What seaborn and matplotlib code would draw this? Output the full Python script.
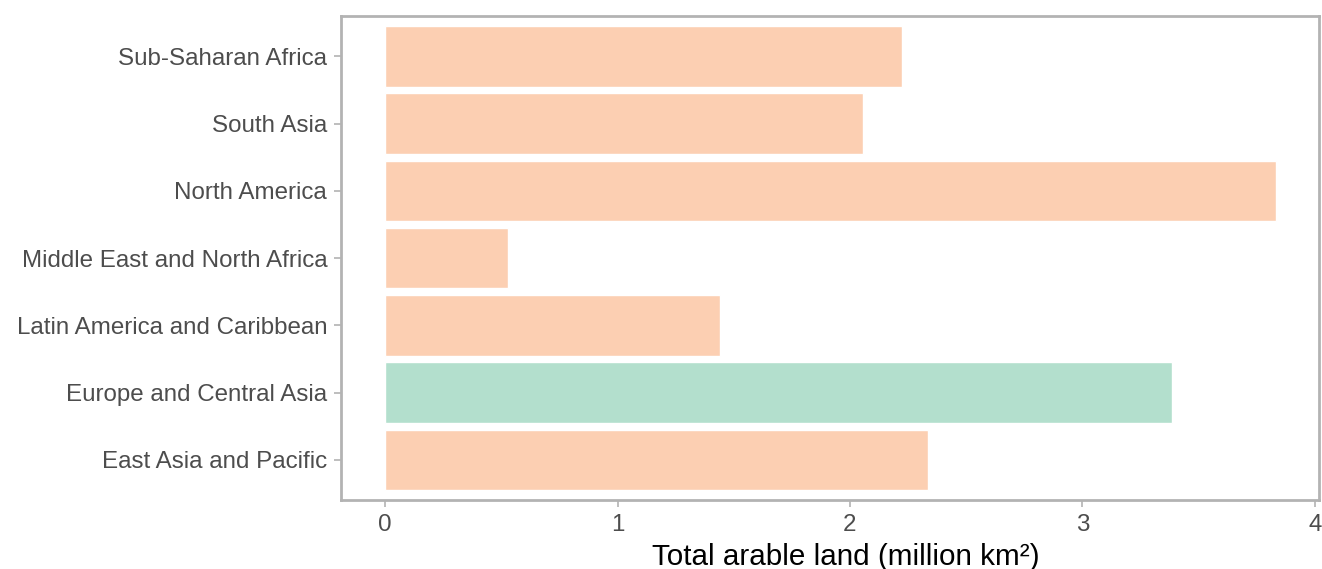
import numpy as np
import pandas as pd
import seaborn as sns
import matplotlib.pyplot as plt

# region names, top to bottom as drawn
regions = [
    "Sub-Saharan Africa",
    "South Asia",
    "North America",
    "Middle East and North Africa",
    "Latin America and Caribbean",
    "Europe and Central Asia",
    "East Asia and Pacific",
]
arable_land = [2.224, 2.056, 3.832, 0.529, 1.441, 3.385, 2.335]
highlight = "Europe and Central Asia"

df = pd.DataFrame({"region": regions, "land": arable_land})
df["group"] = ["hl" if r == highlight else "other" for r in df["region"]]

sns.set_style("white")
plt.rcParams["font.family"] = ["Liberation Sans", "DejaVu Sans"]

fig, ax = plt.subplots(figsize=(13.22, 5.69), dpi=100)
sns.barplot(
    data=df, y="region", x="land", hue="group",
    palette={"other": "#fccfb2", "hl": "#b3dfcd"},
    order=regions, dodge=False, width=0.9, legend=False, ax=ax,
    saturation=1,
)

ax.set_xlim(-0.19, 4.02)
ax.set_ylim(6.6, -0.6)
ax.set_xticks([0, 1, 2, 3, 4])
ax.set_ylabel("")
ax.set_xlabel("Total arable land (million km²)", fontsize=21.3, color="black")
# label sits a bit right of the panel centre in the original
ax.xaxis.set_label_coords(0.516, -0.088)

for s in ax.spines.values():
    s.set_color("#b3b3b3")
    s.set_linewidth(2)
ax.tick_params(axis="both", colors="#b3b3b3", labelcolor="#4d4d4d",
               labelsize=17.4, length=5, width=1.2, direction="out", pad=5)
ax.tick_params(axis="y", left=True)
ax.tick_params(axis="x", bottom=True)

fig.subplots_adjust(left=0.258, right=0.998, top=0.972, bottom=0.121)
fig.savefig("out.png", dpi=100)
